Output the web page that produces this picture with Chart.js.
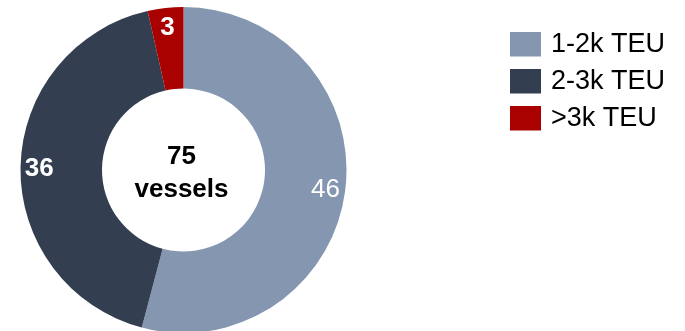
<!DOCTYPE html>
<html>
<head>
<meta charset="utf-8">
<script src="https://cdn.jsdelivr.net/npm/chart.js@4/dist/chart.umd.min.js"></script>
<style>
html,body{margin:0;padding:0;background:#fff;overflow:hidden;}
#wrap{position:relative;width:685px;height:331px;}
</style>
</head>
<body>
<div id="wrap"><canvas id="c" width="685" height="331"></canvas></div>
<script>
const categories = ['1-2k TEU', '2-3k TEU', '>3k TEU'];
const values = [46, 36, 3];
const colors = ['#8597B0', '#333F50', '#A90000'];
const labelColors = ['#ffffff', '#ffffff', '#ffffff'];
const labelBold = [false, true, true];
const centerLines = ['75', 'vessels'];

const FONT = '"Liberation Sans", Arial, Helvetica, sans-serif';

const valueLabels = {
  id: 'valueLabels',
  afterDatasetsDraw(chart) {
    const ctx = chart.ctx;
    const meta = chart.getDatasetMeta(0);
    ctx.save();
    ctx.textAlign = 'center';
    ctx.textBaseline = 'middle';
    meta.data.forEach((arc, i) => {
      const p = arc.getProps(['x','y','startAngle','endAngle','outerRadius'], true);
      const mid = (p.startAngle + p.endAngle) / 2;
      const r = p.outerRadius * 0.885;
      ctx.font = (labelBold[i] ? 'bold ' : '') + '26px ' + FONT;
      ctx.fillStyle = labelColors[i];
      ctx.fillText(String(values[i]), p.x + Math.cos(mid) * r - (i === 0 ? 1 : 0), p.y + Math.sin(mid) * r + 1);
    });
    ctx.restore();
  }
};

const centerText = {
  id: 'centerText',
  afterDatasetsDraw(chart) {
    const ctx = chart.ctx;
    const arc = chart.getDatasetMeta(0).data[0];
    ctx.save();
    ctx.textAlign = 'center';
    ctx.textBaseline = 'alphabetic';
    ctx.fillStyle = '#000000';
    ctx.font = 'bold 26px ' + FONT;
    ctx.fillText(centerLines[0], arc.x - 2, arc.y - 6);
    ctx.fillText(centerLines[1], arc.x - 2, arc.y + 27);
    ctx.restore();
  }
};

const customLegend = {
  id: 'customLegend',
  afterDraw(chart) {
    const ctx = chart.ctx;
    ctx.save();
    ctx.textBaseline = 'middle';
    ctx.textAlign = 'left';
    ctx.font = '27px ' + FONT;
    categories.forEach((c, i) => {
      const y = 32 + i * 37;
      ctx.fillStyle = colors[i];
      ctx.fillRect(510, y, 31, 24.5);
      ctx.fillStyle = '#000000';
      ctx.fillText(c, 551, y + 13);
    });
    ctx.restore();
  }
};

new Chart(document.getElementById('c'), {
  type: 'doughnut',
  data: {
    labels: categories,
    datasets: [{
      data: values,
      backgroundColor: colors,
      borderColor: '#ffffff',
      borderWidth: 0,
      radius: 163,
      cutout: '50%'
    }]
  },
  options: {
    responsive: false,
    animation: false,
    layout: { padding: { left: 20, right: 338, top: 9, bottom: 0 } },
    plugins: { legend: { display: false }, tooltip: { enabled: false } }
  },
  plugins: [valueLabels, centerText, customLegend]
});
</script>
</body>
</html>
